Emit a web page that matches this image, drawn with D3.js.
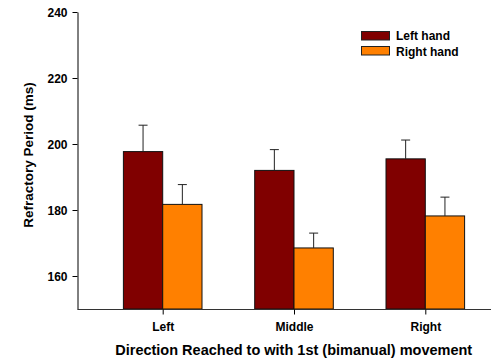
<!DOCTYPE html>
<html><head><meta charset="utf-8">
<script src="https://cdn.jsdelivr.net/npm/d3@7"></script>
<style>
body{margin:0;background:#fff;}
text{font-family:Arial,"Liberation Sans",sans-serif;font-weight:bold;fill:#000;}
</style></head>
<body><svg id="c" width="491" height="360"></svg>
<script>
const categories = ["Left","Middle","Right"];
const seriesNames = ["Left hand","Right hand"];
const leftHand = [197.7, 192.0, 195.5];
const leftHandErr = [8.0, 6.3, 5.7];
const rightHand = [181.7, 168.5, 178.2];
const rightHandErr = [6.0, 4.5, 5.7];
const yTicks = [160,180,200,220,240];
const colors = ["#800000","#ff8000"];

const svg = d3.select("#c");
const y = d3.scaleLinear().domain([150,240]).range([309,12]);
const x = d3.scalePoint().domain(categories).range([162.7,425.3]);
const barW = 39.3;

const series = [
  {name:seriesNames[0], vals:leftHand, errs:leftHandErr, color:colors[0], off:-barW},
  {name:seriesNames[1], vals:rightHand, errs:rightHandErr, color:colors[1], off:0}
];

series.forEach(s=>{
  const g = svg.append("g");
  g.selectAll("rect").data(categories).join("rect")
    .attr("x", (c)=>x(c)+s.off).attr("width", barW)
    .attr("y", (c,i)=>y(s.vals[i])).attr("height",(c,i)=>y(150)-y(s.vals[i]))
    .attr("fill", s.color).attr("stroke","#111").attr("stroke-width",1);
  g.selectAll("line.e").data(categories).join("line").attr("class","e")
    .attr("x1",(c)=>x(c)+s.off+barW/2).attr("x2",(c)=>x(c)+s.off+barW/2)
    .attr("y1",(c,i)=>y(s.vals[i])).attr("y2",(c,i)=>y(s.vals[i]+s.errs[i]))
    .attr("stroke","#222").attr("stroke-width",1);
  g.selectAll("line.cap").data(categories).join("line").attr("class","cap")
    .attr("x1",(c)=>x(c)+s.off+barW/2-4.5).attr("x2",(c)=>x(c)+s.off+barW/2+4.5)
    .attr("y1",(c,i)=>y(s.vals[i]+s.errs[i])).attr("y2",(c,i)=>y(s.vals[i]+s.errs[i]))
    .attr("stroke","#222").attr("stroke-width",1);
});

const ya = svg.append("g").attr("transform","translate(77.5,0)")
  .call(d3.axisLeft(y).tickValues(yTicks).tickSize(5).tickPadding(5).tickSizeOuter(0));
ya.select(".domain").attr("stroke","#000");
ya.selectAll("text").style("font-size","12px").attr("dy","0.35em");

const xa = svg.append("g").attr("transform","translate(0,309.5)");
xa.append("line").attr("x1",77.5).attr("x2",491).attr("stroke","#333");
const sub = xa.append("g").call(d3.axisBottom(x).tickSize(5).tickSizeOuter(0).tickPadding(8));
sub.select(".domain").remove();
sub.selectAll("text").style("font-size","12px");

svg.append("text").attr("transform","translate(33,155) rotate(-90)")
  .attr("text-anchor","middle").style("font-size","13.5px").text("Refractory Period (ms)");
svg.append("text").attr("x",293.7).attr("y",355).attr("text-anchor","middle")
  .style("font-size","14.5px").text("Direction Reached to with 1st (bimanual) movement");

const lg = svg.append("g");
series.forEach((s,i)=>{
  lg.append("rect").attr("x",361.5).attr("y",31.5+i*15).attr("width",28).attr("height",8.5)
    .attr("fill",s.color).attr("stroke","#222").attr("stroke-width",1);
  lg.append("text").attr("x",396).attr("y",40+i*15.5).style("font-size","12px").text(s.name);
});
</script></body></html>
